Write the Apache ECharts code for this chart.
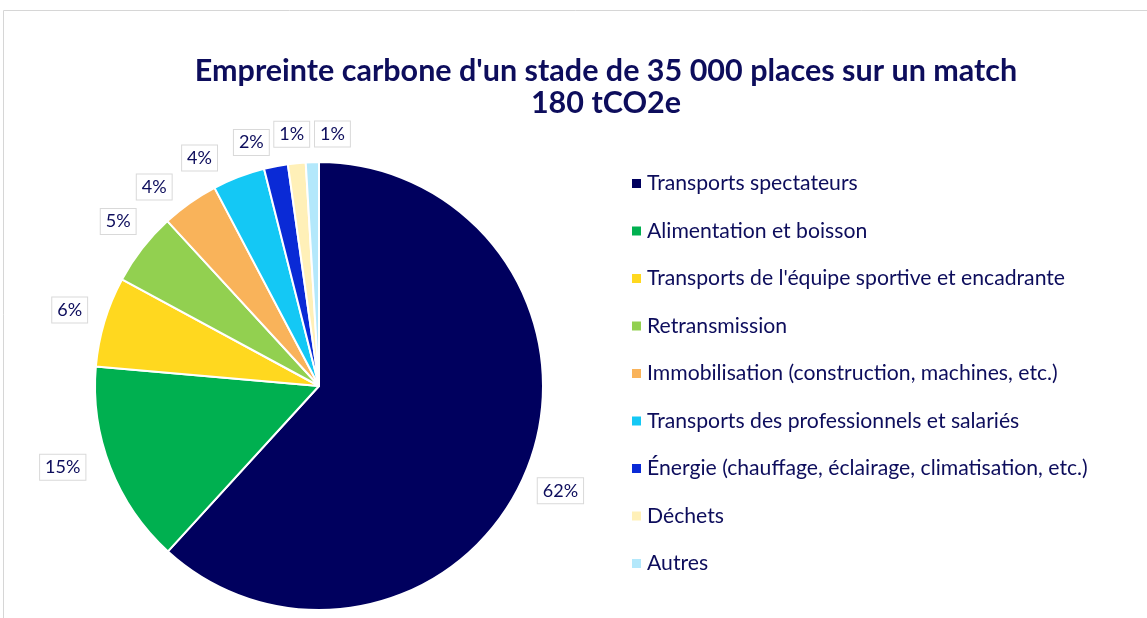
<!DOCTYPE html>
<html>
<head>
<meta charset="utf-8">
<script src="https://cdn.jsdelivr.net/npm/echarts@6/dist/echarts.min.js"></script>
<style>
    body { margin: 0; background: #fff; }
    #chart { width: 1147px; height: 618px; }
</style>
</head>
<body>
<div id="chart"></div>
<script>
// categories and values (tCO2e, share of 180 t)
var categories = [
    "Transports spectateurs",
    "Alimentation et boisson",
    "Transports de l'équipe sportive et encadrante",
    "Retransmission",
    "Immobilisation (construction, machines, etc.)",
    "Transports des professionnels et salariés",
    "Énergie (chauffage, éclairage, climatisation, etc.)",
    "Déchets",
    "Autres"
];
var values = [111.2, 26.3, 11.7, 9.5, 7.4, 6.8, 3.1, 2.3, 1.7];
var colors = ["#00005e", "#00b050", "#ffd81f", "#92d050", "#f9b35a", "#14c8f5", "#0a2ad6", "#fff0b8", "#b3e8fb"];

// small shifts of the data labels away from their default outside spot (like Excel spreads them)
var labelShiftX = [-10, -5, 3, 11, -4, -11, 1, 19, 43];
var labelShiftY = [18, -6, -7, -17, -3, -4, -8, -13, -12];

var textColor = "#0d0d5c";

var chart = echarts.init(document.getElementById("chart"));

var pieData = categories.map(function (name, i) {
    return { name: name, value: values[i], itemStyle: { color: colors[i] } };
});

var option = {
    animation: false,
    graphic: [
        {
            type: "rect",
            shape: { x: 3.5, y: 10.5, width: 1200, height: 700 },
            style: { fill: "none", stroke: "#d6d6d6", lineWidth: 1 },
            silent: true
        }
    ],
    title: {
        text: "Empreinte carbone d'un stade de 35 000 places sur un match\n180 tCO2e",
        left: 601,
        top: 50,
        textAlign: "center",
        textStyle: {
            fontFamily: "Lato",
            fontWeight: "bold",
            fontSize: 30.5,
            lineHeight: 32,
            color: textColor
        }
    },
    legend: {
        orient: "vertical",
        left: 625,
        top: 168,
        itemWidth: 11,
        itemHeight: 11,
        itemGap: 26.5,
        icon: "rect",
        selectedMode: false,
        data: categories,
        textStyle: {
            fontFamily: "Lato",
            fontSize: 21.2,
            lineHeight: 20,
            color: textColor
        }
    },
    series: [
        {
            type: "pie",
            center: [319, 386],
            radius: 224,
            startAngle: 90,
            clockwise: true,
            percentPrecision: 0,
            avoidLabelOverlap: false,
            itemStyle: { borderColor: "#fff", borderWidth: 2 },
            label: {
                show: true,
                position: "outside",
                formatter: "{d}%",
                fontFamily: "Lato",
                fontSize: 18,
                color: textColor,
                backgroundColor: "#fff",
                borderColor: "#d9d9d9",
                borderWidth: 1,
                padding: [4, 5, 3, 5]
            },
            labelLine: { show: false, length: 16, length2: 0 },
            labelLayout: function (params) {
                return {
                    dx: labelShiftX[params.dataIndex],
                    dy: labelShiftY[params.dataIndex],
                    hideOverlap: false
                };
            },
            emphasis: { disabled: true },
            data: pieData
        }
    ]
};

chart.setOption(option);
</script>
</body>
</html>
